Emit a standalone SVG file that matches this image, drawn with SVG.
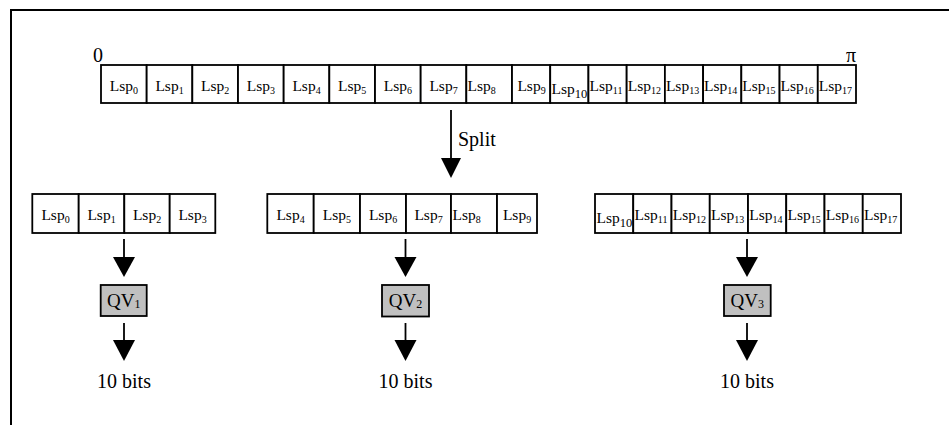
<svg xmlns="http://www.w3.org/2000/svg" width="949" height="425" viewBox="0 0 949 425" font-family="'Liberation Serif', 'Times New Roman', Times, serif">
<style>
text{font-family:'Liberation Serif','Times New Roman',Times,serif;fill:#000}
.c{fill:#fff;stroke:#000;stroke-width:1.8}
.q{fill:#c0c0c0;stroke:#000;stroke-width:1.8}
.t{font-size:15.5px}
.m{text-anchor:middle}
.s{font-size:10px}
.s2{font-size:12.5px}
.big{font-size:20px}
.ln{stroke:#000;stroke-width:1.8;fill:none}
.hd{fill:#000}
</style>
<path id="frame" d="M11,425 V10 H949" fill="none" stroke="#000" stroke-width="2"/>

<g id="axis-labels">
<text x="93" y="61.5" class="big">0</text>
<text x="846" y="61.5" class="big">π</text>
</g>

<g id="top-row">
<rect class="c" x="101" y="65" width="45.67" height="38"/>
<rect class="c" x="146.67" y="65" width="45.67" height="38"/>
<rect class="c" x="192.33" y="65" width="45.67" height="38"/>
<rect class="c" x="238" y="65" width="45.67" height="38"/>
<rect class="c" x="283.67" y="65" width="45.67" height="38"/>
<rect class="c" x="329.33" y="65" width="45.67" height="38"/>
<rect class="c" x="375" y="65" width="45.67" height="38"/>
<rect class="c" x="420.67" y="65" width="45.67" height="38"/>
<rect class="c" x="466.33" y="65" width="45.67" height="38"/>
<rect class="c" x="512" y="65" width="38.22" height="38"/>
<rect class="c" x="550.22" y="65" width="38.22" height="38"/>
<rect class="c" x="588.44" y="65" width="38.22" height="38"/>
<rect class="c" x="626.67" y="65" width="38.22" height="38"/>
<rect class="c" x="664.89" y="65" width="38.22" height="38"/>
<rect class="c" x="703.11" y="65" width="38.22" height="38"/>
<rect class="c" x="741.33" y="65" width="38.22" height="38"/>
<rect class="c" x="779.56" y="65" width="38.22" height="38"/>
<rect class="c" x="817.78" y="65" width="38.22" height="38"/>
<text class="t m" x="123.8" y="91">Lsp<tspan class="s" dy="3">0</tspan></text>
<text class="t m" x="169.5" y="91">Lsp<tspan class="s" dy="3">1</tspan></text>
<text class="t m" x="215.2" y="91">Lsp<tspan class="s" dy="3">2</tspan></text>
<text class="t m" x="260.8" y="91">Lsp<tspan class="s" dy="3">3</tspan></text>
<text class="t m" x="306.5" y="91">Lsp<tspan class="s" dy="3">4</tspan></text>
<text class="t m" x="352.2" y="91">Lsp<tspan class="s" dy="3">5</tspan></text>
<text class="t m" x="397.8" y="91">Lsp<tspan class="s" dy="3">6</tspan></text>
<text class="t m" x="443.5" y="91">Lsp<tspan class="s" dy="3">7</tspan></text>
<text class="t" x="467.5" y="91">Lsp<tspan class="s" dy="3">8</tspan></text>
<text class="t m" x="531.5" y="91">Lsp<tspan class="s" dy="3">9</tspan></text>
<text class="t" x="551.5" y="93.5">Lsp<tspan class="s2" dy="4">10</tspan></text>
<text class="t" x="589.5" y="91">Lsp<tspan class="s" dy="3">11</tspan></text>
<text class="t" x="627.7" y="91">Lsp<tspan class="s" dy="3">12</tspan></text>
<text class="t" x="665.9" y="91">Lsp<tspan class="s" dy="3">13</tspan></text>
<text class="t" x="704.1" y="91">Lsp<tspan class="s" dy="3">14</tspan></text>
<text class="t" x="742.3" y="91">Lsp<tspan class="s" dy="3">15</tspan></text>
<text class="t" x="780.6" y="91">Lsp<tspan class="s" dy="3">16</tspan></text>
<text class="t" x="818.8" y="91">Lsp<tspan class="s" dy="3">17</tspan></text>
</g>

<g id="split-label">
<text x="458" y="145.5" class="big">Split</text>
</g>

<g id="group1">
<rect class="c" x="32.3" y="194" width="46.4" height="39"/>
<rect class="c" x="78.7" y="194" width="45.6" height="39"/>
<rect class="c" x="124.3" y="194" width="45.4" height="39"/>
<rect class="c" x="169.7" y="194" width="45.6" height="39"/>
<text class="t m" x="55.5" y="220">Lsp<tspan class="s" dy="3">0</tspan></text>
<text class="t m" x="101.5" y="220">Lsp<tspan class="s" dy="3">1</tspan></text>
<text class="t m" x="147" y="220">Lsp<tspan class="s" dy="3">2</tspan></text>
<text class="t m" x="192.5" y="220">Lsp<tspan class="s" dy="3">3</tspan></text>
</g>

<g id="group2">
<rect class="c" x="267.3" y="194" width="46.4" height="39"/>
<rect class="c" x="313.7" y="194" width="46.3" height="39"/>
<rect class="c" x="360" y="194" width="46" height="39"/>
<rect class="c" x="406" y="194" width="45" height="39"/>
<rect class="c" x="451" y="194" width="46" height="39"/>
<rect class="c" x="497" y="194" width="40" height="39"/>
<text class="t m" x="290.5" y="220">Lsp<tspan class="s" dy="3">4</tspan></text>
<text class="t m" x="336.8" y="220">Lsp<tspan class="s" dy="3">5</tspan></text>
<text class="t m" x="383" y="220">Lsp<tspan class="s" dy="3">6</tspan></text>
<text class="t m" x="428.5" y="220">Lsp<tspan class="s" dy="3">7</tspan></text>
<text class="t" x="452.5" y="220">Lsp<tspan class="s" dy="3">8</tspan></text>
<text class="t m" x="517" y="220">Lsp<tspan class="s" dy="3">9</tspan></text>
</g>

<g id="group3">
<rect class="c" x="595" y="194" width="38.25" height="39"/>
<rect class="c" x="633.25" y="194" width="38.25" height="39"/>
<rect class="c" x="671.5" y="194" width="38.25" height="39"/>
<rect class="c" x="709.75" y="194" width="38.25" height="39"/>
<rect class="c" x="748" y="194" width="38.25" height="39"/>
<rect class="c" x="786.25" y="194" width="38.25" height="39"/>
<rect class="c" x="824.5" y="194" width="38.25" height="39"/>
<rect class="c" x="862.75" y="194" width="38.25" height="39"/>
<text class="t" x="596.5" y="222.5">Lsp<tspan class="s2" dy="4">10</tspan></text>
<text class="t" x="634.5" y="220">Lsp<tspan class="s" dy="3">11</tspan></text>
<text class="t" x="672.8" y="220">Lsp<tspan class="s" dy="3">12</tspan></text>
<text class="t" x="711" y="220">Lsp<tspan class="s" dy="3">13</tspan></text>
<text class="t" x="749.3" y="220">Lsp<tspan class="s" dy="3">14</tspan></text>
<text class="t" x="787.5" y="220">Lsp<tspan class="s" dy="3">15</tspan></text>
<text class="t" x="825.8" y="220">Lsp<tspan class="s" dy="3">16</tspan></text>
<text class="t" x="864" y="220">Lsp<tspan class="s" dy="3">17</tspan></text>
</g>

<g id="qv1">
<rect class="q" x="100.7" y="285" width="46" height="31"/>
<text class="m" x="123.7" y="307" font-size="19">QV<tspan font-size="12" dy="1">1</tspan></text>
</g>
<g id="qv2">
<rect class="q" x="382" y="285" width="47" height="31.5"/>
<text class="m" x="405.5" y="307" font-size="19">QV<tspan font-size="12" dy="1">2</tspan></text>
</g>
<g id="qv3">
<rect class="q" x="724" y="285" width="46.7" height="31"/>
<text class="m" x="747.3" y="307" font-size="19">QV<tspan font-size="12" dy="1">3</tspan></text>
</g>

<g id="outputs">
<text class="big m" x="124" y="388">10 bits</text>
<text class="big m" x="405.5" y="388">10 bits</text>
<text class="big m" x="747" y="388">10 bits</text>
</g>

<g id="connectors">
<path class="ln" d="M451,110 V160"/>
<polygon class="hd" points="441,158 461,158 451,178"/>
<path class="ln" d="M124,239 V259"/>
<polygon class="hd" points="113,257 135,257 124,277"/>
<path class="ln" d="M124,323 V342"/>
<polygon class="hd" points="113,340 135,340 124,361"/>
<path class="ln" d="M405.5,239 V259"/>
<polygon class="hd" points="394.5,257 416.5,257 405.5,277"/>
<path class="ln" d="M405.5,323 V342"/>
<polygon class="hd" points="394.5,340 416.5,340 405.5,361"/>
<path class="ln" d="M747,239 V259"/>
<polygon class="hd" points="736,257 758,257 747,277"/>
<path class="ln" d="M747,323 V342"/>
<polygon class="hd" points="736,340 758,340 747,361"/>
</g>
</svg>
